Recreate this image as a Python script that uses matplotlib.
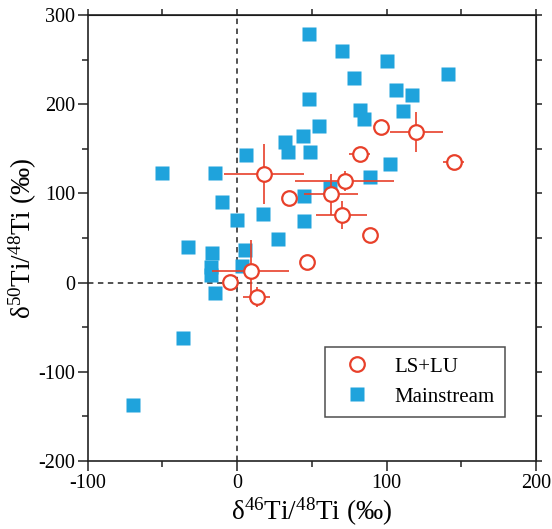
import numpy as np
import matplotlib
matplotlib.use("Agg")
import matplotlib.pyplot as plt

plt.rcParams['font.family'] = ['Liberation Serif', 'DejaVu Serif']
plt.rcParams['mathtext.fontset'] = 'custom'
plt.rcParams['mathtext.rm'] = 'Liberation Serif'
plt.rcParams['mathtext.it'] = 'Liberation Serif:italic'
plt.rcParams['axes.unicode_minus'] = False

# Mainstream grains (d46Ti/48Ti, d50Ti/48Ti) in permil
ms_x = [-70, -36, -50, -15, -10, 0, 17, 27, -33, -17, 5, 3, -17.5, -17.5, -15,
        48, 48, 6, 32, 34, 44, 49, 55, 70, 78, 100, 141, 106, 117, 111, 82, 85,
        102, 89, 62, 45, 45]
ms_y = [-137, -62, 123, 123, 90, 70, 77, 49, 40, 33, 37, 19, 18, 9, -12,
        279, 206, 143, 158, 147, 164, 146, 176, 260, 230, 248, 234, 216, 210, 192, 194, 183,
        133, 118, 106, 97, 69]

# LS+LU grains with 1-sigma errors
ls_x = [18, 35, 72, 63, 70, 89, 47, 96, 120, 82, 145, 9, -5, 13]
ls_y = [122, 95, 114, 99, 76, 53, 23, 174, 169, 144, 135, 13, 1, -16]
ls_xerr = [27, 0, 33, 18, 17, 0, 4, 0, 18, 7, 7, 26, 4, 9]
ls_yerr = [34, 0, 11, 23, 16, 0, 0, 0, 22, 0, 8, 35, 0, 11]

blue = '#1fa3dc'
red = '#e8402a'

fig = plt.figure(figsize=(5.52, 5.29), dpi=100)
ax = fig.add_axes([0.159, 0.1285, 0.812, 0.843])

ax.axvline(0, color='#444444', lw=1.3, ls=(0, (3, 2.5)), zorder=1)
ax.axhline(0, color='#444444', lw=1.3, ls=(0, (3, 2.5)), zorder=1)

h_ms, = ax.plot(ms_x, ms_y, 's', color=blue, ms=9.5, mec='none', zorder=2)
ax.errorbar(ls_x, ls_y, xerr=ls_xerr, yerr=ls_yerr, fmt='none', ecolor=red,
            elinewidth=1.2, capsize=0, zorder=3)
h_ls, = ax.plot(ls_x, ls_y, 'o', mfc='white', mec=red, mew=1.6, ms=10.5, zorder=4)

ax.set_xlim(-100, 200)
ax.set_ylim(-200, 300)
ax.set_xticks([-100, 0, 100, 200])
ax.set_yticks([-200, -100, 0, 100, 200, 300])
ax.set_xticks([-50, 50, 150], minor=True)
ax.set_yticks([-150, -50, 50, 150, 250], minor=True)
ax.tick_params(which='major', direction='out', length=7, width=1.1, labelsize=14.5,
               colors='#222222', labelcolor='black', pad=2)
ax.tick_params(which='minor', direction='out', length=4, width=1.1, colors='#222222')
for s in ax.spines.values():
    s.set_linewidth(1.2)
    s.set_color('#222222')

# short ticks on top / right, no labels
top = ax.secondary_xaxis('top')
top.set_xticks(np.arange(-100, 201, 50))
top.tick_params(direction='out', length=4, width=1.1, labeltop=False, colors='#222222')
right = ax.secondary_yaxis('right')
right.set_yticks(np.arange(-200, 301, 50))
right.tick_params(direction='out', length=4, width=1.1, labelright=False, colors='#222222')

ax.set_xlabel(r'δ$^{\mathrm{46}}$Ti/$^{\mathrm{48}}$Ti (‰)', fontsize=19.5)
ax.set_ylabel(r'δ$^{\mathrm{50}}$Ti/$^{\mathrm{48}}$Ti (‰)', fontsize=19.5)
ax.xaxis.set_label_coords(0.5, -0.078)
ax.yaxis.set_label_coords(-0.108, 0.5)

leg = ax.legend([h_ls, h_ms], ['LS+LU', 'Mainstream'],
                loc='lower left', bbox_to_anchor=(0.529, 0.0987), borderaxespad=0,
                fontsize=15, frameon=True, fancybox=False, edgecolor='#222222',
                handlelength=2.1, handletextpad=0.75, labelspacing=0.5, borderpad=0.5)
leg.get_frame().set_linewidth(1.1)

fig.savefig('out.png', dpi=100)
